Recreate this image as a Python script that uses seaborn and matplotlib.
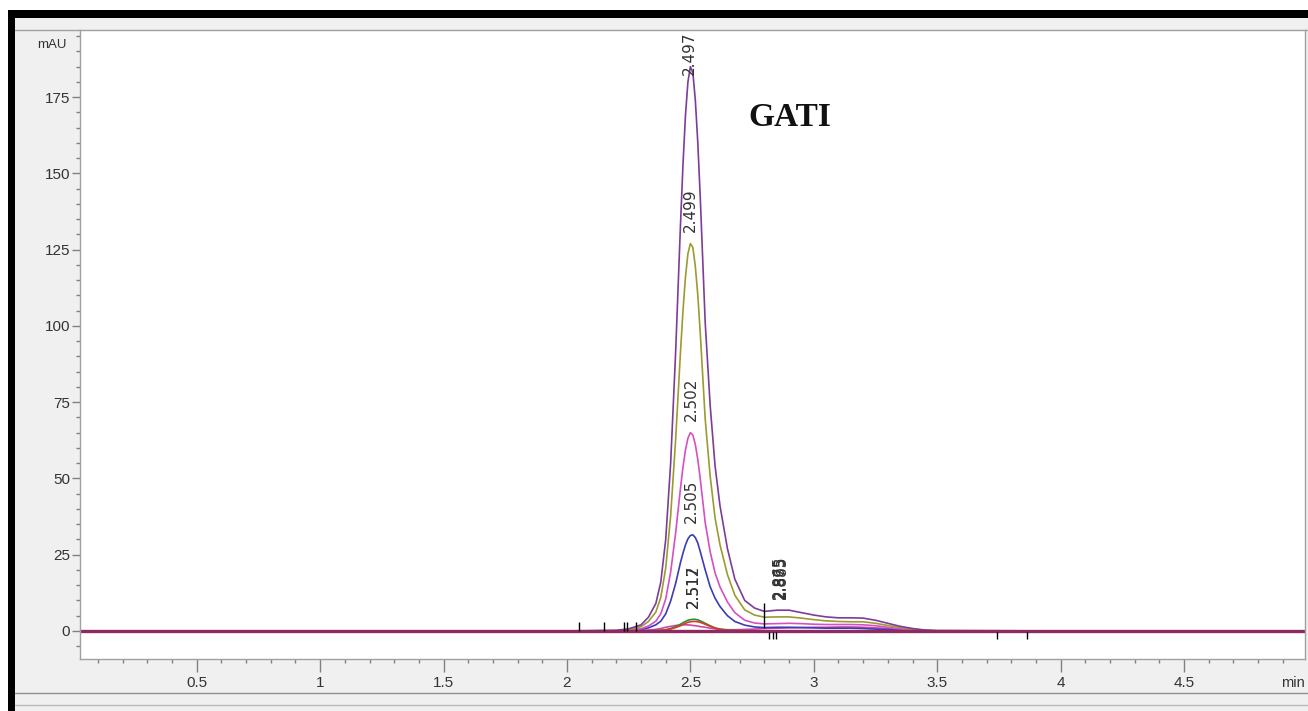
import pandas as pd
import seaborn as sns
import matplotlib.pyplot as plt
from matplotlib.patches import Rectangle
from matplotlib.lines import Line2D
from matplotlib.ticker import MultipleLocator

'''
数据：保留时间 (min) 与各进样的吸光度 (mAU)，从原图读取
'''
time_min = [0.03, 1.00, 2.00, 2.20, 2.25, 2.30, 2.33, 2.36, 2.38, 2.40,
            2.42, 2.44, 2.46, 2.47, 2.48, 2.49, 2.50, 2.51, 2.52, 2.53,
            2.54, 2.56, 2.58, 2.60, 2.62, 2.65, 2.68, 2.72, 2.76, 2.80,
            2.85, 2.90, 2.95, 3.00, 3.05, 3.10, 3.15, 3.20, 3.25, 3.30,
            3.35, 3.40, 3.45, 3.50, 4.00, 4.99]

purple = [0, 0, 0, 0.2, 0.7, 2.0, 4.5, 9.0, 16.0, 30.0,
          55.0, 91.0, 133.5, 153.0, 169.0, 180.0, 185.0, 183.0, 174.0, 160.0,
          142.0, 101.0, 74.0, 54.0, 41.0, 27.0, 17.0, 10.0, 7.5, 6.4,
          6.8, 6.8, 6.0, 5.2, 4.6, 4.3, 4.3, 4.2, 3.5, 2.5,
          1.5, 0.8, 0.3, 0.1, 0, 0]
olive = [0, 0, 0, 0.1, 0.4, 1.4, 3.1, 6.2, 11.0, 20.6,
         37.8, 62.5, 91.7, 105.0, 116.0, 123.7, 127.0, 125.7, 119.5, 110.0,
         97.6, 69.4, 50.8, 37.0, 28.2, 18.5, 11.7, 6.9, 5.2, 4.5,
         4.6, 4.6, 4.2, 3.7, 3.3, 3.1, 3.0, 3.0, 2.5, 1.8,
         1.1, 0.6, 0.2, 0.1, 0, 0]
magenta = [0, 0, 0, 0, 0.2, 0.7, 1.6, 3.2, 5.6, 10.5,
           19.3, 32.0, 46.9, 53.7, 59.3, 63.2, 65.0, 64.2, 61.1, 56.2,
           49.8, 35.5, 26.0, 19.0, 14.4, 9.5, 6.0, 3.5, 2.6, 2.3,
           2.4, 2.5, 2.4, 2.2, 2.1, 2.1, 2.1, 2.0, 1.7, 1.2,
           0.7, 0.3, 0.1, 0, 0, 0]
blue = [0, 0, 0, 0, 0.2, 0.5, 1.0, 2.0, 3.2, 5.6,
        9.8, 15.5, 22.5, 25.5, 28.2, 30.2, 31.3, 31.5, 30.6, 28.8,
        26.0, 20.0, 14.5, 10.7, 8.0, 5.0, 3.1, 1.9, 1.3, 1.1,
        1.2, 1.2, 1.1, 1.0, 0.9, 0.9, 0.9, 0.8, 0.6, 0.4,
        0.2, 0.1, 0, 0, 0, 0]
green = [0, 0, 0, 0, 0, 0, 0, 0.1, 0.2, 0.4,
         0.8, 1.4, 2.2, 2.7, 3.1, 3.5, 3.7, 3.8, 3.8, 3.6,
         3.3, 2.5, 1.7, 1.0, 0.6, 0.3, 0.1, 0, 0, 0,
         0, 0, 0, 0, 0, 0, 0, 0, 0, 0,
         0, 0, 0, 0, 0, 0]
red = [0, 0, 0, 0, 0, 0, 0, 0.1, 0.2, 0.3,
       0.6, 1.1, 1.7, 2.1, 2.5, 2.8, 3.0, 3.1, 3.1, 3.0,
       2.8, 2.2, 1.5, 0.9, 0.5, 0.2, 0.1, 0, 0, 0,
       0, 0, 0, 0, 0, 0, 0, 0, 0, 0,
       0, 0, 0, 0, 0, 0]
pink = [0, 0, 0, 0, 0.1, 0.2, 0.3, 0.5, 0.8, 1.2,
        1.5, 1.8, 1.9, 2.0, 2.0, 2.0, 1.9, 1.8, 1.7, 1.6,
        1.4, 1.2, 0.9, 0.7, 0.5, 0.4, 0.4, 0.5, 0.6, 0.8,
        0.9, 1.0, 1.1, 1.2, 1.2, 1.3, 1.3, 1.2, 1.0, 0.8,
        0.5, 0.3, 0.1, 0, 0, 0]
blank_t = [0.03, 4.99]
blank_v = [0, 0]

# 峰标注 (保留时间, 峰高)
peak_labels = ['2.497', '2.499', '2.502', '2.505', '2.512', '2.517', '2.865', '2.873', '2.885']
peak_rt = [2.497, 2.499, 2.502, 2.505, 2.512, 2.512, 2.862, 2.866, 2.870]
peak_height = [185, 127, 65, 31.5, 3.8, 3.8, 6.8, 6.8, 6.8]

# 积分起止标记
marks_up = [2.047, 2.148, 2.229, 2.245, 2.281]
marks_down = [2.820, 2.836, 2.848, 3.743, 3.864]
mark_tall = 2.80

colors = {'purple': '#7d3c98', 'olive': '#9b9b2f', 'magenta': '#d64fc4',
          'blue': '#3c3cb4', 'green': '#2e8b30', 'red': '#d93a2b',
          'pink': '#c94aa5'}

sns.set_style('white')
plt.rcParams['font.family'] = ['Liberation Sans Narrow', 'Liberation Sans', 'DejaVu Sans']

W, H = 1308, 711
fig = plt.figure(figsize=(W / 100, H / 100), dpi=100, facecolor='#f0f0f0')


def px_rect(x, y, w, h, color, z=0):
    fig.add_artist(Rectangle((x / W, 1 - (y + h) / H), w / W, h / H,
                             transform=fig.transFigure, color=color, zorder=z, lw=0))


def px_hline(y, x0, x1, color, lw=1.0):
    fig.add_artist(Line2D([x0 / W, x1 / W], [1 - y / H, 1 - y / H],
                          transform=fig.transFigure, color=color, lw=lw))


# 窗口边框
px_rect(0, 0, W, 10, 'white')
px_rect(0, 0, 8, H, 'white')
px_rect(8, 10, W - 8, 8, 'black')
px_rect(8, 10, 7, H - 10, 'black')
px_hline(29.5, 15, W, '#a0a0a0')
px_hline(693, 15, W, '#909090')
px_hline(705, 15, W, '#b8b8b8')

ax = fig.add_axes([80 / W, 1 - 659 / H, (1305 - 80) / W, (659 - 30) / H])
ax.set_facecolor('white')

frames = []
for name, vals in [('pink', pink), ('blue', blue), ('magenta', magenta), ('olive', olive),
                   ('purple', purple), ('green', green), ('red', red)]:
    frames.append(pd.DataFrame({'time': time_min, 'mAU': vals, 'trace': name}))
df = pd.concat(frames, ignore_index=True)

sns.lineplot(data=df, x='time', y='mAU', hue='trace', palette=colors,
             estimator=None, sort=False, linewidth=1.2, legend=False, ax=ax)
sns.lineplot(x=blank_t, y=blank_v, color='#8e2a62', linewidth=2.4, ax=ax)

# 积分标记
ax.vlines(marks_up, 0, 3, color='black', lw=1)
ax.vlines(marks_down, -0.5, -2.5, color='black', lw=1)
ax.vlines([mark_tall], 1, 9.2, color='black', lw=1)

# 峰标注
for lab, rt, h in zip(peak_labels, peak_rt, peak_height):
    yb = h + 3.8
    if yb + 15 > 196:
        ax.text(rt, 196.5, lab, rotation=90, ha='center', va='top',
                fontsize=11, family=['DejaVu Sans'], color='#333333')
    else:
        ax.text(rt, yb, lab, rotation=90, ha='center', va='bottom',
                fontsize=11, family=['DejaVu Sans'], color='#333333')

ax.set_xlim(0.027, 4.99)
ax.set_ylim(-9.2, 197)
ax.xaxis.set_minor_locator(MultipleLocator(0.1))
ax.yaxis.set_major_locator(MultipleLocator(25))
ax.yaxis.set_minor_locator(MultipleLocator(5))
ax.set_xticks([0.5, 1, 1.5, 2, 2.5, 3, 3.5, 4, 4.5])
ax.set_xticklabels(['0.5', '1', '1.5', '2', '2.5', '3', '3.5', '4', '4.5'])
ax.set_xlabel('')
ax.set_ylabel('')

ax.tick_params(axis='x', which='major', direction='out', length=9, width=1,
               color='#808080', labelsize=11, labelcolor='#333333', pad=3, bottom=True)
ax.tick_params(axis='x', which='minor', direction='out', length=3, width=1,
               color='#808080', bottom=True)
ax.tick_params(axis='y', which='major', direction='out', length=6, width=1,
               color='#808080', labelsize=11, labelcolor='#333333', pad=1, left=True)
ax.tick_params(axis='y', which='minor', direction='out', length=3, width=1,
               color='#808080', left=True)

for s in ['left', 'bottom', 'right']:
    ax.spines[s].set_color('#a0a0a0')
    ax.spines[s].set_linewidth(1)
ax.spines['top'].set_visible(False)

fig.text(67 / W, 1 - 45 / H, 'mAU', ha='right', va='center', fontsize=9.5, color='#333333')
fig.text(1293 / W, 1 - 683 / H, 'min', ha='center', va='center', fontsize=10.5, color='#333333')
fig.text(790 / W, 1 - 117 / H, 'GATI', ha='center', va='center', fontsize=24,
         fontweight='bold', family=['Liberation Serif', 'DejaVu Serif'], color='#111111')

fig.savefig('out.png', dpi=100, facecolor=fig.get_facecolor())
